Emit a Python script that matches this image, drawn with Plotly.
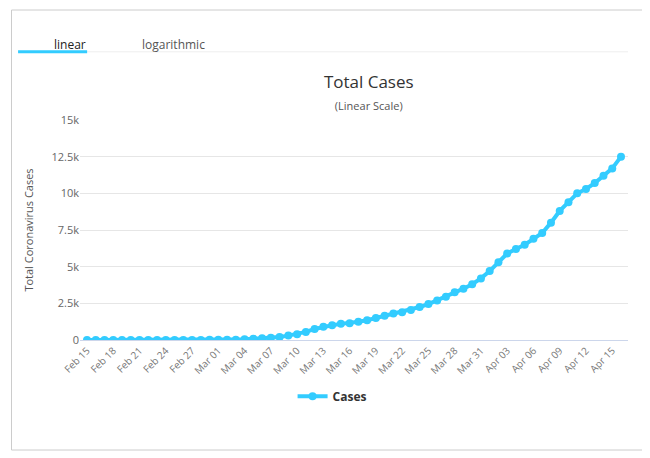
import pandas as pd
import plotly.graph_objects as go

dates = pd.date_range("2020-02-15", "2020-04-16").strftime("%b %d").tolist()
cases = [
    0, 0, 0, 0, 0, 0, 1, 2, 3, 3, 4, 5, 6, 8, 10, 12, 15, 20,
    50, 80, 120, 150, 200, 300, 400, 550, 750, 900, 1000, 1100, 1150, 1250,
    1350, 1500, 1650, 1800, 1900, 2050, 2250, 2450, 2700, 2950, 3250, 3500,
    3800, 4200, 4700, 5300, 5900, 6200, 6500, 6900, 7300, 8000, 8800, 9400,
    10000, 10300, 10700, 11200, 11700, 12500,
]
tick_dates = dates[::3]

fig = go.Figure()
fig.add_trace(go.Scatter(
    x=dates, y=cases, mode="lines+markers", name="Cases",
    line=dict(color="#33ccff", width=4),
    marker=dict(color="#33ccff", size=8),
))

fig.update_layout(
    width=650, height=458,
    paper_bgcolor="white", plot_bgcolor="white",
    font=dict(family="Open Sans, DejaVu Sans", color="#555", size=11),
    margin=dict(l=72, r=30, t=112, b=126),
    title=dict(
        text="Total Cases<br><span style='font-size:11px;color:#555'>(Linear Scale)</span>",
        x=0.555, xanchor="center", y=0.825, yanchor="top",
        font=dict(size=17, color="#333"),
    ),
    showlegend=True,
    legend=dict(orientation="h", x=0.46, xanchor="center", y=-0.19, yanchor="top",
                font=dict(size=12, color="#333", weight="bold")),
    xaxis=dict(
        tickmode="array", tickvals=tick_dates, ticktext=tick_dates,
        tickangle=-45, tickfont=dict(size=10, color="#777"),
        showgrid=False, showline=True, linecolor="#ccd6eb",
        range=[-0.8, len(dates) - 0.2],
    ),
    yaxis=dict(
        title=dict(text="Total Coronavirus Cases", font=dict(size=11, color="#555")),
        range=[0, 15000], tickvals=[0, 2500, 5000, 7500, 10000, 12500, 15000],
        ticktext=["0", "2.5k", "5k", "7.5k", "10k", "12.5k", "15k"],
        gridcolor="#e6e6e6", zeroline=False, tickfont=dict(size=11, color="#666"),
    ),
    shapes=[
        dict(type="rect", xref="paper", yref="paper", x0=-0.125, x1=1.03, y0=-0.5, y1=1.5,
             line=dict(color="#cccccc", width=1)),
        dict(type="line", xref="paper", yref="paper", x0=-0.113, x1=1.0, y0=1.31, y1=1.31,
             line=dict(color="#eeeeee", width=1)),
        dict(type="line", xref="paper", yref="paper", x0=-0.113, x1=0.013, y0=1.31, y1=1.31,
             line=dict(color="#33ccff", width=3)),
    ],
    annotations=[
        dict(text="linear", xref="paper", yref="paper", x=-0.051, y=1.39, showarrow=False,
             font=dict(size=12, color="#222")),
        dict(text="logarithmic", xref="paper", yref="paper", x=0.109, y=1.39, showarrow=False,
             font=dict(size=12, color="#555")),
    ],
)

fig.write_html("out.html")
